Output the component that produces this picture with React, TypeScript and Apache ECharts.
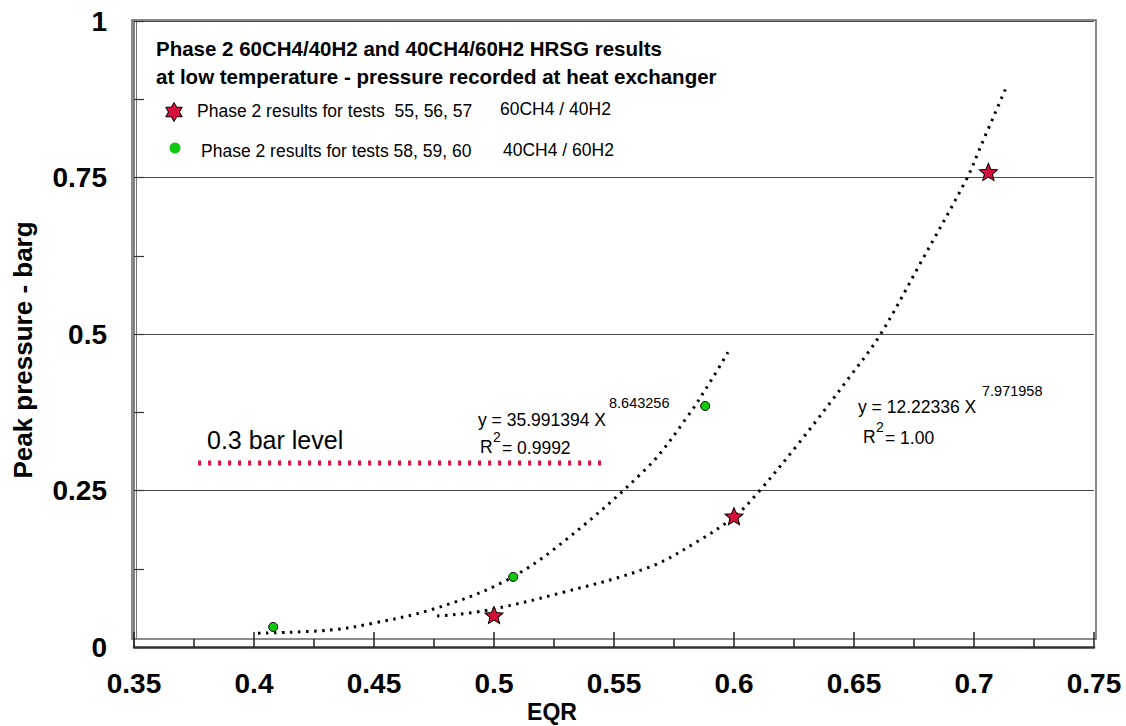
import React, { useEffect, useRef } from "react";
import * as echarts from "echarts";

const FONT = "'Liberation Sans', Arial, Helvetica, sans-serif";

// ---- data ----
const titleLines = [
  "Phase 2 60CH4/40H2 and 40CH4/60H2 HRSG results",
  "at low temperature - pressure recorded at heat exchanger",
];
const legendStarLabel = "Phase 2 results for tests  55, 56, 57";
const legendStarGas = "60CH4 / 40H2";
const legendCircleLabel = "Phase 2 results for tests 58, 59, 60";
const legendCircleGas = "40CH4 / 60H2";

// 60CH4 / 40H2 tests (stars)
const starPoints: [number, number][] = [
  [0.5, 0.051],
  [0.6, 0.209],
  [0.706, 0.759],
];
// 40CH4 / 60H2 tests (green circles)
const circlePoints: [number, number][] = [
  [0.408, 0.032],
  [0.508, 0.112],
  [0.588, 0.385],
];
// dotted trend line through the green points
const greenFit: [number, number][] = [
  [0.4017, 0.022],
  [0.4317, 0.027],
  [0.4496, 0.038],
  [0.4733, 0.059],
  [0.5013, 0.099],
  [0.5246, 0.155],
  [0.5637, 0.286],
  [0.5804, 0.367],
  [0.5913, 0.431],
  [0.5975, 0.471],
];
// dotted trend line through the stars
const redFit: [number, number][] = [
  [0.4763, 0.0495],
  [0.4954, 0.0575],
  [0.5275, 0.086],
  [0.565, 0.128],
  [0.5858, 0.171],
  [0.6004, 0.209],
  [0.6096, 0.245],
  [0.6275, 0.328],
  [0.6483, 0.432],
  [0.6608, 0.498],
  [0.6775, 0.612],
  [0.6971, 0.749],
  [0.7025, 0.797],
  [0.7133, 0.893],
];
// "0.3 bar level" reference line
const barLevel: [number, number][] = [
  [0.3767, 0.294],
  [0.5467, 0.294],
];
const barLevelLabel = "0.3 bar level";
const eqGreen = { main: "y = 35.991394 X", exp: "8.643256", r2: "= 0.9992" };
const eqRed = { main: "y = 12.22336 X", exp: "7.971958", r2: "= 1.00" };
const xName = "EQR";
const yName = "Peak pressure - barg";

const STAR_PATH =
  "path://M0,-10 L2.645,-3.641 L9.511,-3.090 L4.280,1.391 L5.878,8.090 L0,4.5 L-5.878,8.090 L-4.280,1.391 L-9.511,-3.090 L-2.645,-3.641 Z";

const STAR_RED = "#d4103a";
const GREEN = "#10c810";

function hexagram(cx: number, cy: number, R: number): number[][] {
  const pts: number[][] = [];
  const r = R / Math.sqrt(3);
  for (let k = 0; k < 6; k++) {
    const ao = ((-90 + 60 * k) * Math.PI) / 180;
    const ai = ((-60 + 60 * k) * Math.PI) / 180;
    pts.push([cx + R * Math.cos(ao), cy + R * Math.sin(ao)]);
    pts.push([cx + r * Math.cos(ai), cy + r * Math.sin(ai)]);
  }
  return pts;
}

function txt(
  text: string,
  x: number,
  y: number,
  fontSize: number,
  opts: any = {}
) {
  return {
    type: "text",
    x,
    y,
    rotation: opts.rotation || 0,
    z: 10,
    style: {
      text,
      fontSize,
      fontWeight: opts.bold ? "bold" : "normal",
      fontFamily: FONT,
      fill: opts.color || "#000",
      align: opts.align || "left",
      verticalAlign: "middle",
    },
  };
}

export default function App() {
  const ref = useRef<HTMLDivElement>(null);

  useEffect(() => {
    document.body.style.margin = "0";
    if (!ref.current) return;
    const chart = echarts.init(ref.current, undefined, { renderer: "svg" });

    const dotted = {
      color: "#000",
      width: 3,
      type: [2.5, 5.5] as any,
      cap: "butt",
    };

    const option: any = {
      animation: false,
      backgroundColor: "#fff",
      textStyle: { fontFamily: FONT },
      title: {
        text: titleLines.join("\n"),
        left: 156,
        top: 34,
        padding: 0,
        textStyle: {
          fontSize: 20.5,
          fontWeight: "bold",
          lineHeight: 28,
          color: "#000",
          fontFamily: FONT,
        },
      },
      grid: {
        left: 134,
        right: 32,
        top: 21,
        bottom: 79,
        containLabel: false,
        outerBoundsMode: "none",
      },
      xAxis: {
        type: "value",
        min: 0.35,
        max: 0.75,
        interval: 0.05,
        axisLine: {
          show: true,
          onZero: false,
          lineStyle: { color: "#333", width: 2.5 },
        },
        axisTick: {
          show: true,
          inside: true,
          length: 15,
          lineStyle: { color: "#222", width: 1.5 },
        },
        minorTick: {
          show: true,
          splitNumber: 2,
          length: 8,
          lineStyle: { color: "#222", width: 1.5 },
        },
        axisLabel: {
          margin: 22,
          fontSize: 28,
          fontWeight: "bold",
          color: "#000",
          fontFamily: FONT,
        },
        splitLine: { show: false },
      },
      yAxis: {
        type: "value",
        min: 0,
        max: 1,
        interval: 0.25,
        axisLine: {
          show: true,
          onZero: false,
          lineStyle: { color: "#555", width: 1.5 },
        },
        axisTick: {
          show: true,
          inside: true,
          length: 10,
          lineStyle: { color: "#333", width: 1.2 },
        },
        minorTick: {
          show: true,
          splitNumber: 2,
          length: 10,
          lineStyle: { color: "#333", width: 1.2 },
        },
        axisLabel: {
          margin: 27,
          fontSize: 28,
          fontWeight: "bold",
          color: "#000",
          fontFamily: FONT,
        },
        splitLine: { show: true, lineStyle: { color: "#4a4a4a", width: 1.2 } },
      },
      series: [
        {
          name: "Trend 40CH4 / 60H2",
          type: "line",
          data: greenFit,
          smooth: 0.35,
          showSymbol: false,
          symbol: "none",
          lineStyle: dotted,
          z: 3,
          silent: true,
        },
        {
          name: "Trend 60CH4 / 40H2",
          type: "line",
          data: redFit,
          smooth: 0.35,
          showSymbol: false,
          symbol: "none",
          lineStyle: dotted,
          z: 3,
          silent: true,
        },
        {
          name: barLevelLabel,
          type: "line",
          data: barLevel,
          symbol: "none",
          lineStyle: { color: "#e0103f", width: 5, type: [3, 7], cap: "butt" },
          z: 3,
          silent: true,
        },
        {
          name: legendStarLabel + " " + legendStarGas,
          type: "scatter",
          data: starPoints,
          symbol: STAR_PATH,
          symbolSize: [18, 17],
          itemStyle: {
            color: STAR_RED,
            borderColor: "#000",
            borderWidth: 1,
            opacity: 1,
          },
          z: 5,
        },
        {
          name: legendCircleLabel + " " + legendCircleGas,
          type: "scatter",
          data: circlePoints,
          symbol: "circle",
          symbolSize: 9,
          itemStyle: {
            color: GREEN,
            borderColor: "#000",
            borderWidth: 1,
            opacity: 1,
          },
          z: 5,
        },
      ],
      graphic: [
        // outer frame (double line look)
        {
          type: "rect",
          z: 0,
          silent: true,
          shape: { x: 132, y: 20, width: 964, height: 619 },
          style: { fill: "none", stroke: "#666", lineWidth: 1.5 },
        },
        {
          type: "line",
          z: 0,
          silent: true,
          shape: { x1: 136.5, y1: 21, x2: 136.5, y2: 639 },
          style: { stroke: "#777", lineWidth: 1 },
        },
        // legend
        {
          type: "polygon",
          z: 10,
          shape: { points: hexagram(174, 112, 9.5) },
          style: { fill: STAR_RED, stroke: "#000", lineWidth: 1 },
        },
        txt(legendStarLabel, 197, 111, 17.5),
        txt(legendStarGas, 500, 109, 17.5),
        {
          type: "circle",
          z: 10,
          shape: { cx: 175, cy: 148, r: 5.5 },
          style: { fill: GREEN },
        },
        txt(legendCircleLabel, 201, 151, 17.5),
        txt(legendCircleGas, 503, 150, 17.5),
        // equations
        txt(eqGreen.main, 478, 420, 17.5),
        txt(eqGreen.exp, 609, 403, 14.5),
        txt("R", 480, 447, 17.5),
        txt("2", 493, 437, 14),
        txt(eqGreen.r2, 502, 448, 17.5),
        txt(eqRed.main, 858, 407, 17.5),
        txt(eqRed.exp, 982, 391, 14.5),
        txt("R", 863, 437, 17.5),
        txt("2", 876, 427, 14),
        txt(eqRed.r2, 885, 438, 17.5),
        // bar level label
        txt(barLevelLabel, 207, 440, 25),
        // axis names
        txt(xName, 552, 712, 23, { bold: true, align: "center" }),
        txt(yName, 23, 350, 26, {
          bold: true,
          align: "center",
          rotation: Math.PI / 2,
        }),
      ],
    };

    chart.setOption(option);
    return () => chart.dispose();
  }, []);

  return (
    <div
      ref={ref}
      style={{ width: 1126, height: 726, background: "#fff", overflow: "hidden" }}
    />
  );
}
